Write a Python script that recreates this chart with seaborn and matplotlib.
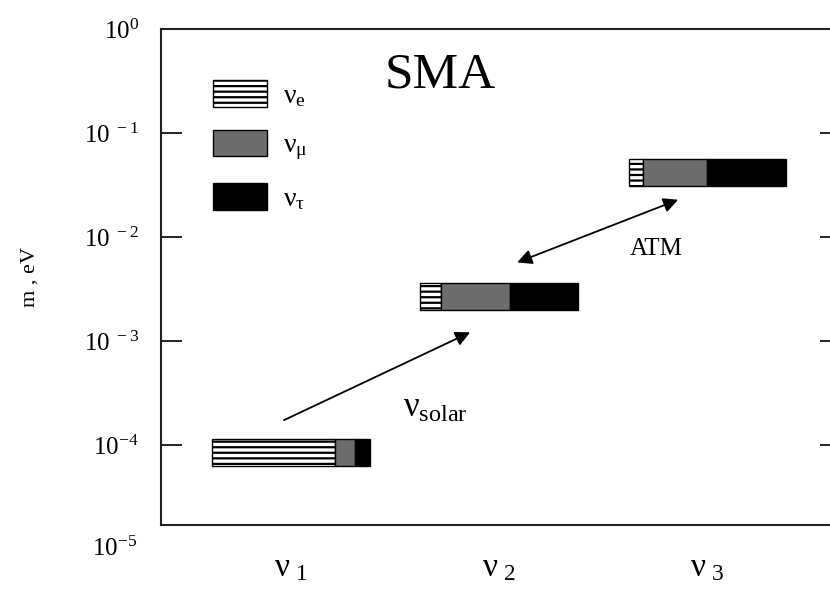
import matplotlib
matplotlib.use("Agg")
import matplotlib.pyplot as plt
import seaborn as sns
import numpy as np

# mass eigenstates and their masses (eV)
states = [r"$\nu_{\ 1}$", r"$\nu_{\ 2}$", r"$\nu_{\ 3}$"]
masses = [8.45e-5, 2.68e-3, 4.14e-2]

# flavour content of each mass eigenstate (fractions of the bar)
flavours = [r"$\nu_{e}$", r"$\nu_{\mu}$", r"$\nu_{\tau}$"]
frac_e = [0.78, 0.13, 0.09]
frac_mu = [0.13, 0.44, 0.41]
frac_tau = [0.09, 0.43, 0.50]

ytick_vals = [1e0, 1e-1, 1e-2, 1e-3, 1e-4, 1e-5]
ytick_labels = [r"$10^{0}$", r"$10^{\ -1}$", r"$10^{\ -2}$", r"$10^{\ -3}$",
                r"$10^{-4}$", r"$10^{-5}$"]


def main():
    sns.set_theme(style="ticks")
    plt.rcParams["font.family"] = ["Liberation Serif", "DejaVu Serif"]
    # upright serif glyphs everywhere in math text (greek included)
    plt.rcParams["mathtext.fontset"] = "custom"
    plt.rcParams["mathtext.rm"] = "Liberation Serif"
    plt.rcParams["mathtext.it"] = "Liberation Serif"
    plt.rcParams["mathtext.bf"] = "Liberation Serif:bold"
    plt.rcParams["hatch.linewidth"] = 1.6
    for k in ["text.color", "axes.labelcolor", "xtick.color", "ytick.color",
              "axes.edgecolor"]:
        plt.rcParams[k] = "black"

    fig = plt.figure(figsize=(8.3, 5.95), dpi=100)
    ax = fig.add_axes([161 / 830, 70 / 595, 680 / 830, 496 / 595])

    x = np.arange(len(states))
    W = 0.755          # bar length in category units
    half = 0.13        # half bar thickness in decades
    m = np.array(masses)
    bottoms = m / 10 ** half
    heights = m * 10 ** half - bottoms

    styles = [dict(color="white", hatch="---"),
              dict(color="#6d6d6d"),
              dict(color="black")]
    cum = np.zeros(len(states))
    for lab, fr, st in zip(flavours, [frac_e, frac_mu, frac_tau], styles):
        fr = np.array(fr)
        ax.bar(x - W / 2 + cum * W, heights, width=fr * W, bottom=bottoms,
               align="edge", edgecolor="black", linewidth=1.0, label=lab, **st)
        cum += fr

    ax.set_yscale("log")
    ax.set_ylim(10 ** -4.77, 1)
    ax.set_xlim(-0.625, 2.644)
    ax.yaxis.set_minor_locator(matplotlib.ticker.NullLocator())
    ax.set_yticks(ytick_vals[:-1])
    ax.set_yticklabels(ytick_labels[:-1])
    ax.text(-0.035, ytick_vals[-1], ytick_labels[-1], transform=ax.get_yaxis_transform(),
            ha="right", va="center", fontsize=18, clip_on=False)
    ax.set_xticks(x)
    ax.set_xticklabels(states)
    ax.tick_params(axis="y", direction="in", length=15, width=1.2, right=True,
                   labelsize=18, pad=16)
    ax.tick_params(axis="x", length=0, labelsize=24, pad=20)
    for s in ax.spines.values():
        s.set_linewidth(1.5)
        s.set_color("#222222")

    ax.set_ylabel("m , eV", fontsize=16)
    ax.yaxis.set_label_coords(-0.178, 0.5)

    # oscillation arrows
    ax.annotate("", xy=(0.861, 1.21e-3), xytext=(-0.034, 1.73e-4),
                arrowprops=dict(arrowstyle="-|>", color="black", lw=1.3,
                                mutation_scale=22, shrinkA=0, shrinkB=0))
    ax.annotate("", xy=(1.861, 2.28e-2), xytext=(1.087, 5.69e-3),
                arrowprops=dict(arrowstyle="<|-|>", color="black", lw=1.3,
                                mutation_scale=22, shrinkA=0, shrinkB=0))
    ax.text(0.692, 10 ** -3.647, r"$\nu_{\mathrm{solar}}$", fontsize=25,
            ha="center", va="center")
    ax.text(1.755, 10 ** -2.112, "ATM", fontsize=18, ha="center", va="center")

    ax.text(0.41, 0.883, "SMA", transform=ax.transAxes, fontsize=37,
            ha="center", va="baseline")

    ax.legend(loc="upper left", bbox_to_anchor=(0.0765, 0.897), frameon=False,
              fontsize=20, borderpad=0, borderaxespad=0, handlelength=1.93,
              handleheight=1.1, labelspacing=0.75, handletextpad=0.6)

    plt.savefig("out.png", dpi=100)


main()
